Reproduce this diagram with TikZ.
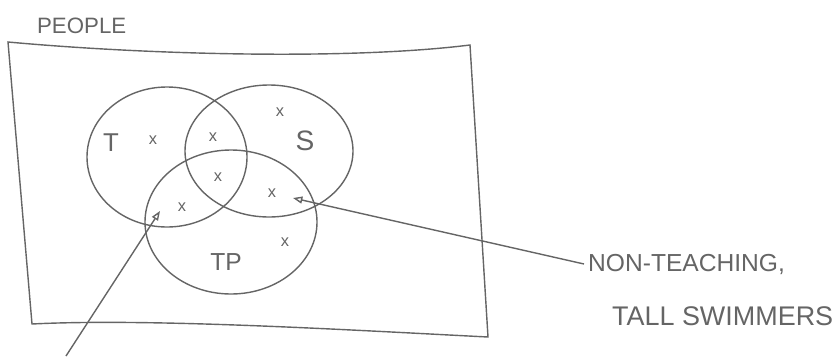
\documentclass[tikz,border=0pt]{standalone}
\usepackage{fontspec}
\setmainfont{Liberation Sans}
\usetikzlibrary{arrows.meta,positioning,shapes.geometric}
\definecolor{pencil}{HTML}{656565}

\tikzset{
  sketch/.style={draw=pencil, line width=1.2pt},
  setshape/.style={sketch, ellipse, inner sep=0pt},
  lbl/.style={text=pencil, font=\fontsize{19}{22}\selectfont},
  member/.style={text=pencil, font=\fontsize{14}{15}\selectfont, inner sep=0pt},
  pointer/.style={sketch, -{Triangle[open, length=8pt, width=6pt]}}
}

\begin{document}
\begin{tikzpicture}[x=0.03cm, y=-0.03cm]
    \useasboundingbox (0,0) rectangle (834,356);

    % Universe
    \coordinate (tl) at (8,42);
    \coordinate (tr) at (470,45);
    \coordinate (br) at (488,337);
    \coordinate (bl) at (32,324);
    \draw[sketch] (tl) .. controls (150,55) and (350,60) .. (tr) -- (br)
      .. controls (350,330) and (150,318) .. (bl) -- cycle;
    \node[lbl, anchor=west] (people) at (33,26) {PEOPLE};

    % Sets
    \node[setshape, minimum width=4.8cm, minimum height=4.2cm] (T) at (167,157) {};
    \node[setshape, minimum width=5.04cm, minimum height=3.96cm] (S) at (269,151) {};
    \node[setshape, minimum width=5.16cm, minimum height=4.32cm] (TP) at (231,222) {};

    \node[lbl, font=\fontsize{22}{24}\selectfont] (tname) at (111,143) {T};
    \node[lbl, font=\fontsize{24}{26}\selectfont] (sname) at (305,141) {S};
    \node[lbl, font=\fontsize{21}{24}\selectfont] (tpname) at (226,262) {TP};

    % Members
    \node[member] (m1) at (153,140) {x};
    \node[member] (m2) at (280,112) {x};
    \node[member] (m3) at (213,137) {x};
    \node[member] (m4) at (218,177) {x};
    \node[member] (m5) at (182,207) {x};
    \node[member] (m6) at (272,193) {x};
    \node[member] (m7) at (285,242) {x};

    % Pointers
    \coordinate (tipa) at (160,211);
    \coordinate (taila) at (66,356);
    \draw[pointer] (taila) -- (tipa);

    \node[lbl, anchor=west, font=\fontsize{21}{24}\selectfont] (nt) at (584,264) {NON-TEACHING,};
    \node[lbl, anchor=west, font=\fontsize{23}{26}\selectfont] (ts) at (608,316) {TALL SWIMMERS};
    \coordinate (tipb) at (293,198);
    \draw[pointer] (nt.west) -- (tipb);
\end{tikzpicture}
\end{document}
